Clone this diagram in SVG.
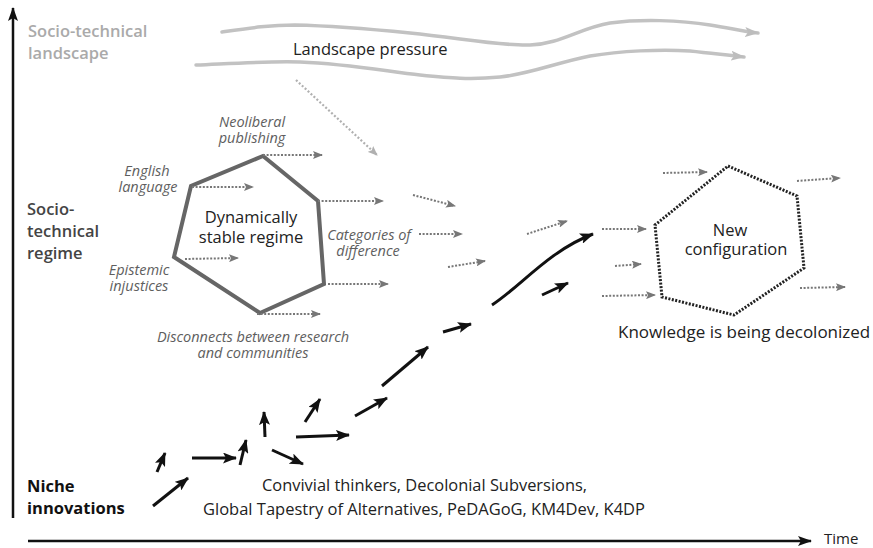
<svg xmlns="http://www.w3.org/2000/svg" width="873" height="548" viewBox="0 0 873 548">
<defs>
<marker id="ax" viewBox="0 0 14 10" refX="13" refY="5" markerWidth="14" markerHeight="10" markerUnits="userSpaceOnUse" orient="auto"><path d="M0,0 L14,5 L0,10 L3,5 z" fill="#111"/></marker>
<marker id="ab" viewBox="0 0 14 11" refX="13" refY="5.5" markerWidth="14" markerHeight="11" markerUnits="userSpaceOnUse" orient="auto"><path d="M0,0 L14,5.5 L0,11 L3,5.5 z" fill="#111"/></marker>
<marker id="ag" viewBox="0 0 10 8" refX="9" refY="4" markerWidth="10" markerHeight="8" markerUnits="userSpaceOnUse" orient="auto"><path d="M0,0 L10,4 L0,8 L2,4 z" fill="#777"/></marker>
<marker id="al" viewBox="0 0 14 10" refX="13" refY="5" markerWidth="14" markerHeight="10" markerUnits="userSpaceOnUse" orient="auto"><path d="M0,0 L14,5 L0,10 L3,5 z" fill="#bdbdbd"/></marker>
<marker id="ad" viewBox="0 0 10 8" refX="9" refY="4" markerWidth="10" markerHeight="8" markerUnits="userSpaceOnUse" orient="auto"><path d="M0,0 L10,4 L0,8 L2,4 z" fill="#b0b0b0"/></marker>
</defs>
<style>
text{font-family:"Open Sans","Liberation Sans",sans-serif;}
.lvl{font-size:16.5px;font-weight:600;}
.main{font-size:16.5px;fill:#222;}
.it{font-size:14.5px;font-style:italic;fill:#5e5e5e;text-anchor:middle;}
.niche{stroke:#111;stroke-width:3;fill:none;marker-end:url(#ab);}
.dot{stroke:#777;stroke-width:2;stroke-dasharray:2 1.6;fill:none;marker-end:url(#ag);}
.land{stroke:#c2c2c2;stroke-width:3.5;fill:none;stroke-linecap:round;marker-end:url(#al);}
</style>
<rect width="873" height="548" fill="#fff"/>
<g id="axes">
<line x1="13" y1="518" x2="13" y2="8" stroke="#111" stroke-width="2.5" marker-end="url(#ax)"/>
<line x1="28" y1="541" x2="811" y2="541" stroke="#111" stroke-width="2.5" marker-end="url(#ax)"/>
<text x="824" y="544" class="main" style="font-size:15px">Time</text>
</g>
<g id="level-labels">
<text class="lvl" fill="#aaa" x="28" y="37">Socio-technical</text>
<text class="lvl" fill="#aaa" x="28" y="59">landscape</text>
<text class="lvl" fill="#444" x="27" y="215">Socio-</text>
<text class="lvl" fill="#444" x="27" y="237">technical</text>
<text class="lvl" fill="#444" x="27" y="259">regime</text>
<text class="lvl" fill="#111" x="27" y="492" style="font-weight:700">Niche</text>
<text class="lvl" fill="#111" x="27" y="514" style="font-weight:700">innovations</text>
</g>
<g id="landscape">
<path class="land" d="M222,32 C250,28 270,25 295,25 C340,26 380,30 410,33 C460,38 500,46 530,45 C560,44 580,28 610,23 C640,19 680,20 710,25 C730,28 745,32 758,33"/>
<path class="land" d="M196,65 C240,63 270,61 300,62 C350,64 390,72 420,75 C450,78 470,80 500,77 C530,74 555,63 590,56 C620,51 660,49 690,51 C710,53 725,55 744,57"/>
<text x="293" y="55" class="main">Landscape pressure</text>
<line x1="296" y1="80" x2="377" y2="155" stroke="#b0b0b0" stroke-width="2.2" stroke-dasharray="2 2" marker-end="url(#ad)"/>
</g>
<g id="regime">
<polygon points="263,156 318,201 324,284 260,313 174,257 191,186" fill="none" stroke="#666" stroke-width="4"/>
<text x="251" y="223" class="main" text-anchor="middle">Dynamically</text>
<text x="251" y="243" class="main" text-anchor="middle">stable regime</text>
</g>
<g id="regime-labels">
<text class="it" x="252" y="127">Neoliberal</text>
<text class="it" x="252" y="143">publishing</text>
<text class="it" x="147" y="176">English</text>
<text class="it" x="148" y="192">language</text>
<text class="it" x="139" y="275">Epistemic</text>
<text class="it" x="139" y="291">injustices</text>
<text class="it" x="369" y="240">Categories of</text>
<text class="it" x="368" y="256">difference</text>
<text class="it" x="253" y="342">Disconnects between research</text>
<text class="it" x="253" y="358">and communities</text>
</g>
<g id="new-configuration">
<polygon points="728,166 797,196 804,268 734,315 662,297 655,225" fill="none" stroke="#222" stroke-width="3" stroke-dasharray="2 1.5"/>
<text x="730" y="236" class="main" text-anchor="middle">New</text>
<text x="736" y="255" class="main" text-anchor="middle">configuration</text>
<text x="618" y="338" class="main" style="font-size:17px">Knowledge is being decolonized</text>
</g>
<g id="niche">
<text x="262" y="491" class="main" style="font-size:17px" textLength="325" lengthAdjust="spacingAndGlyphs">Convivial thinkers, Decolonial Subversions,</text>
<text x="203" y="515" class="main" style="font-size:17px" textLength="442" lengthAdjust="spacingAndGlyphs">Global Tapestry of Alternatives,  PeDAGoG, KM4Dev, K4DP</text>
</g>
<g id="connectors">
<line class="niche" x1="153" y1="506" x2="188" y2="478"/>
<line class="niche" x1="157" y1="472" x2="165" y2="453"/>
<line class="niche" x1="192" y1="458" x2="236" y2="458"/>
<line class="niche" x1="240" y1="465" x2="246" y2="440"/>
<line class="niche" x1="265" y1="437" x2="264" y2="412"/>
<line class="niche" x1="272" y1="450" x2="303" y2="464"/>
<line class="niche" x1="296" y1="437" x2="349" y2="435"/>
<line class="niche" x1="305" y1="422" x2="320" y2="399"/>
<line class="niche" x1="355" y1="416" x2="387" y2="398"/>
<line class="niche" x1="382" y1="386" x2="428" y2="347"/>
<line class="niche" x1="443" y1="332" x2="471" y2="324"/>
<path class="niche" d="M492,305 C520,287 550,250 593,234"/>
<line class="niche" x1="542" y1="295" x2="568" y2="283"/>
<line class="dot" x1="263" y1="155" x2="322" y2="155"/>
<line class="dot" x1="192" y1="187" x2="253" y2="187"/>
<line class="dot" x1="318" y1="201" x2="383" y2="201"/>
<line class="dot" x1="185" y1="259" x2="238" y2="258"/>
<line class="dot" x1="328" y1="284" x2="388" y2="284"/>
<line class="dot" x1="257" y1="314" x2="320" y2="314"/>
<line class="dot" x1="413" y1="195" x2="455" y2="206"/>
<line class="dot" x1="419" y1="234" x2="462" y2="234"/>
<line class="dot" x1="448" y1="267" x2="485" y2="261"/>
<line class="dot" x1="527" y1="234" x2="567" y2="221"/>
<line class="dot" x1="602" y1="229" x2="646" y2="229"/>
<line class="dot" x1="615" y1="266" x2="641" y2="264"/>
<line class="dot" x1="602" y1="296" x2="655" y2="295"/>
<line class="dot" x1="663" y1="173" x2="707" y2="172"/>
<line class="dot" x1="797" y1="181" x2="840" y2="178"/>
<line class="dot" x1="800" y1="288" x2="845" y2="287"/>
</g>
</svg>
